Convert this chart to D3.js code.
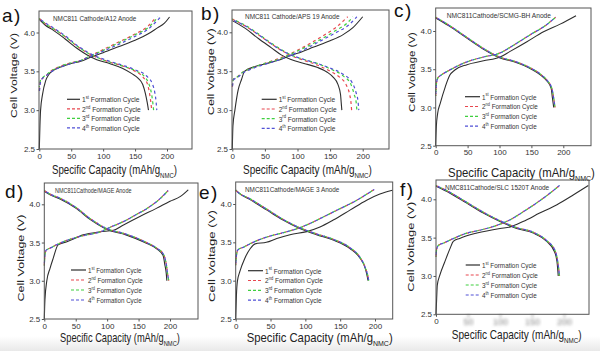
<!DOCTYPE html>
<html>
<head>
<meta charset="utf-8">
<script src="https://cdn.jsdelivr.net/npm/d3@7"></script>
<style>
  body { margin: 0; background: #fff; }
  svg { display: block; font-family: "Liberation Sans", Arial, sans-serif; }
</style>
</head>
<body>
<svg id="area" width="600" height="351"></svg>
<script>
// ---- values ----
const panelTags = ['a)', 'b)', 'c)', 'd)', 'e)', 'f)'];
const panelTitles = [
  'NMC811 Cathode/A12 Anode',
  'NMC811 Cathode/APS 19 Anode',
  'NMC811Cathode/SCMG-BH Anode',
  'NMC811Cathode/MAGE Anode',
  'NMC811Cathode/MAGE 3 Anode',
  'NMC811Cathode/SLC 1520T Anode',
];
const cycleNumbers = ['1', '2', '3', '4'];
const cycleSuffixes = ['st', 'nd', 'rd', 'th'];
const capTicks = [0, 50, 100, 150, 200];
const voltTicks = [2.5, 3.0, 3.5, 4.0];

// [capacity mAh/g, voltage V]
const aCharge1 = [[0, 2.5], [1, 2.8], [2, 3.0], [5, 3.2], [10, 3.38], [15, 3.46], [20, 3.5], [35, 3.56], [50, 3.6], [65, 3.63], [80, 3.68], [100, 3.74], [125, 3.82], [150, 3.9], [170, 3.98], [185, 4.06], [196, 4.12], [204, 4.2]];
const aCharge2 = [[0, 3.25], [2, 3.38], [5, 3.41], [10, 3.44], [18, 3.5], [35, 3.57], [50, 3.61], [65, 3.64], [80, 3.7], [100, 3.78], [125, 3.88], [150, 3.98], [170, 4.08], [183, 4.2]];
const aCharge3 = [[0, 3.3], [2, 3.39], [5, 3.42], [10, 3.45], [18, 3.5], [35, 3.57], [50, 3.61], [65, 3.64], [80, 3.7], [100, 3.77], [125, 3.87], [150, 3.97], [170, 4.06], [186, 4.2]];
const aCharge4 = [[0, 3.22], [2, 3.37], [5, 3.41], [10, 3.44], [18, 3.49], [35, 3.56], [50, 3.6], [65, 3.64], [80, 3.69], [100, 3.76], [125, 3.85], [150, 3.95], [170, 4.04], [190, 4.2]];
const aDischarge1 = [[0, 4.17], [10, 4.09], [20, 4.04], [40, 3.92], [60, 3.79], [75, 3.71], [90, 3.65], [110, 3.6], [130, 3.54], [145, 3.47], [155, 3.41], [162, 3.33], [166, 3.22], [169, 3.1], [171, 3.0]];
const aDischarge2 = [[0, 4.18], [10, 4.11], [20, 4.06], [40, 3.95], [60, 3.82], [75, 3.74], [90, 3.68], [110, 3.62], [130, 3.57], [150, 3.5], [163, 3.42], [170, 3.32], [173, 3.2], [175, 3.08], [176, 3.0]];
const aDischarge3 = [[0, 4.18], [10, 4.11], [20, 4.06], [40, 3.95], [60, 3.82], [75, 3.74], [90, 3.68], [110, 3.62], [130, 3.57], [150, 3.51], [165, 3.43], [172, 3.33], [176, 3.2], [178, 3.08], [179, 3.0]];
const aDischarge4 = [[0, 4.18], [10, 4.12], [20, 4.07], [40, 3.96], [60, 3.83], [75, 3.75], [90, 3.69], [110, 3.63], [130, 3.58], [150, 3.52], [168, 3.44], [177, 3.34], [181, 3.22], [183, 3.1], [184, 3.0]];

const bCharge1 = [[0, 2.5], [1, 2.8], [4, 3.0], [9, 3.26], [14, 3.39], [19, 3.5], [35, 3.56], [53, 3.6], [70, 3.64], [83, 3.68], [100, 3.73], [125, 3.81], [150, 3.89], [170, 3.97], [185, 4.06], [200, 4.2]];
const bCharge2 = [[0, 3.3], [2, 3.4], [8, 3.43], [15, 3.48], [30, 3.54], [50, 3.6], [70, 3.66], [85, 3.71], [100, 3.77], [120, 3.86], [140, 3.96], [160, 4.07], [177, 4.2]];
const bCharge3 = [[0, 3.32], [2, 3.4], [8, 3.43], [15, 3.48], [30, 3.54], [50, 3.6], [70, 3.65], [85, 3.7], [100, 3.76], [120, 3.84], [140, 3.93], [160, 4.03], [175, 4.11], [185, 4.2]];
const bCharge4 = [[0, 3.28], [2, 3.39], [8, 3.42], [15, 3.47], [30, 3.53], [50, 3.59], [70, 3.64], [85, 3.69], [100, 3.74], [120, 3.82], [140, 3.91], [160, 4.0], [178, 4.09], [191, 4.2]];
const bDischarge1 = [[0, 4.15], [20, 4.05], [40, 3.92], [60, 3.8], [75, 3.71], [90, 3.65], [110, 3.6], [130, 3.55], [145, 3.49], [155, 3.42], [162, 3.33], [166, 3.2], [167, 3.1], [168, 3.0]];
const bDischarge2 = [[0, 4.17], [20, 4.08], [40, 3.97], [60, 3.85], [75, 3.77], [90, 3.7], [110, 3.64], [130, 3.58], [150, 3.5], [165, 3.42], [175, 3.32], [180, 3.2], [182, 3.1], [183, 3.0]];
const bDischarge3 = [[0, 4.17], [20, 4.09], [40, 3.98], [60, 3.86], [75, 3.78], [90, 3.71], [110, 3.65], [130, 3.6], [150, 3.53], [170, 3.44], [182, 3.33], [187, 3.2], [190, 3.1], [191, 3.0]];
const bDischarge4 = [[0, 4.16], [20, 4.08], [40, 3.97], [60, 3.85], [75, 3.77], [90, 3.71], [110, 3.65], [130, 3.6], [150, 3.54], [170, 3.46], [184, 3.35], [190, 3.22], [193, 3.1], [194, 3.0]];

const cCharge1 = [[0, 2.5], [1, 2.75], [3, 2.92], [7, 3.05], [15, 3.27], [22, 3.42], [30, 3.49], [49, 3.56], [75, 3.61], [101, 3.66], [116, 3.73], [143, 3.86], [169, 3.99], [195, 4.09], [220, 4.2]];
const cCharge234 = [[0, 3.15], [1, 3.3], [3, 3.38], [8, 3.42], [20, 3.48], [50, 3.6], [75, 3.66], [100, 3.71], [125, 3.83], [150, 3.96], [170, 4.06], [188, 4.18]];
const cDischarge1 = [[0, 4.17], [20, 4.07], [50, 3.9], [75, 3.76], [100, 3.65], [125, 3.59], [150, 3.5], [165, 3.42], [175, 3.34], [181, 3.25], [183, 3.12], [185, 3.0]];
const cDischarge234 = [[0, 4.18], [20, 4.08], [50, 3.91], [75, 3.77], [100, 3.66], [125, 3.6], [150, 3.51], [165, 3.43], [175, 3.35], [182, 3.25], [185, 3.12], [187, 3.0]];

const dCharge1 = [[0, 2.5], [1, 2.75], [4, 3.0], [9, 3.16], [14, 3.29], [22, 3.47], [36, 3.51], [62, 3.6], [89, 3.64], [110, 3.66], [126, 3.73], [152, 3.84], [179, 3.95], [200, 4.04], [216, 4.1], [229, 4.19]];
const dCharge234 = [[0, 3.2], [1, 3.33], [3, 3.4], [10, 3.43], [22, 3.48], [40, 3.54], [62, 3.59], [89, 3.64], [105, 3.7], [125, 3.77], [145, 3.86], [168, 3.97], [185, 4.08], [197, 4.18]];
const dDischarge1 = [[0, 4.17], [10, 4.12], [25, 4.07], [50, 3.95], [75, 3.79], [100, 3.67], [130, 3.6], [160, 3.5], [180, 3.41], [189, 3.33], [192, 3.2], [194, 3.1], [195, 3.0]];
const dDischarge234 = [[0, 4.18], [10, 4.13], [25, 4.08], [50, 3.96], [75, 3.8], [100, 3.68], [130, 3.61], [160, 3.51], [180, 3.42], [190, 3.34], [194, 3.22], [196, 3.1], [198, 3.0]];

const eCharge1 = [[0, 2.5], [1, 2.8], [2.4, 2.99], [6, 3.12], [13, 3.29], [21, 3.42], [28, 3.48], [44, 3.5], [59, 3.55], [78, 3.6], [102, 3.64], [121, 3.7], [140, 3.79], [164, 3.92], [188, 4.05], [207, 4.13], [225, 4.18]];
const eCharge234 = [[0, 3.2], [1, 3.32], [3, 3.4], [12, 3.44], [25, 3.5], [45, 3.57], [70, 3.63], [92, 3.69], [110, 3.76], [130, 3.85], [150, 3.94], [170, 4.03], [185, 4.11], [199, 4.19]];
const eDischarge1 = [[0, 4.18], [5, 4.14], [20, 4.06], [45, 3.92], [68, 3.79], [92, 3.68], [116, 3.6], [140, 3.53], [164, 3.42], [178, 3.3], [186, 3.16], [189, 3.05], [190, 3.0]];
const eDischarge234 = [[0, 4.18], [5, 4.14], [20, 4.07], [45, 3.93], [68, 3.8], [92, 3.69], [116, 3.61], [140, 3.54], [164, 3.43], [178, 3.31], [186, 3.17], [190, 3.05], [191, 3.0]];

const fCharge1 = [[0, 2.5], [1, 2.7], [2, 2.88], [6, 3.01], [14, 3.19], [22, 3.36], [27, 3.45], [37, 3.49], [64, 3.56], [100, 3.62], [116, 3.64], [136, 3.71], [162, 3.82], [189, 3.93], [215, 4.06], [238, 4.18]];
const fCharge234 = [[0, 3.25], [1, 3.35], [4, 3.4], [12, 3.43], [25, 3.48], [45, 3.55], [70, 3.6], [95, 3.66], [115, 3.73], [135, 3.83], [155, 3.94], [175, 4.06], [193, 4.18]];
const fDischarge1 = [[0, 4.17], [22, 4.08], [48, 3.95], [74, 3.82], [100, 3.71], [126, 3.62], [152, 3.56], [173, 3.45], [185, 3.32], [189, 3.19], [191, 3.0]];
const fDischarge234 = [[0, 4.18], [22, 4.09], [48, 3.96], [74, 3.83], [100, 3.72], [126, 3.63], [152, 3.57], [173, 3.46], [186, 3.33], [190, 3.2], [193, 3.0]];

// per panel: one [charge, discharge] pair per cycle
const panelCurves = [
  [[aCharge1, aDischarge1], [aCharge2, aDischarge2], [aCharge3, aDischarge3], [aCharge4, aDischarge4]],
  [[bCharge1, bDischarge1], [bCharge2, bDischarge2], [bCharge3, bDischarge3], [bCharge4, bDischarge4]],
  [[cCharge1, cDischarge1], [cCharge234, cDischarge234], [cCharge234, cDischarge234], [cCharge234, cDischarge234]],
  [[dCharge1, dDischarge1], [dCharge234, dDischarge234], [dCharge234, dDischarge234], [dCharge234, dDischarge234]],
  [[eCharge1, eDischarge1], [eCharge234, eDischarge234], [eCharge234, eDischarge234], [eCharge234, eDischarge234]],
  [[fCharge1, fDischarge1], [fCharge234, fDischarge234], [fCharge234, fDischarge234], [fCharge234, fDischarge234]],
];

// ---- layout (pixels) ----
// x0/x200: pixel of 0 and 200 mAh/g, y25/y40: pixel of 2.5 V and 4.0 V
const layout = [
  { x0: 39.3, x200: 167, y25: 149, y40: 32.5, box: [39, 192, 11, 149], tag: [2, 22], title: [53, 21, 84], leg: [67, 80, 99.3, 9.5, 58], xTitle: [114.5, 174, 125], yTitle: [13, 75.5, 85] },
  { x0: 232.3, x200: 362.7, y25: 149, y40: 32.3, box: [232, 389, 10, 149], tag: [201, 20], title: [245, 18.5, 95], leg: [261.7, 276.7, 99.3, 9.7, 57], xTitle: [307.5, 174, 129], yTitle: [210, 71.7, 87] },
  { x0: 435.7, x200: 563.3, y25: 145.7, y40: 31, box: [435.7, 591, 8, 145.7], tag: [394, 17], title: [446.7, 18, 105], leg: [465, 480, 96.7, 9.8, 55], xTitle: [521.5, 177, 147], yTitle: [411, 72, 80] },
  { x0: 44.3, x200: 170, y25: 319, y40: 204.3, box: [44.3, 198, 183, 319], tag: [5, 198], title: [55, 193, 77], leg: [71, 86, 270, 10, 54], xTitle: [120, 342, 120], yTitle: [20.5, 258, 87] },
  { x0: 235.7, x200: 375, y25: 319, y40: 204, box: [235.7, 392.7, 182, 319], tag: [199, 199], title: [245, 192, 95], leg: [248, 263, 270.7, 9.8, 57], xTitle: [319.7, 342, 146], yTitle: [211.7, 256, 92] },
  { x0: 436, x200: 564, y25: 314.3, y40: 199.3, box: [436, 589, 180, 314.3], tag: [400, 196], title: [445, 190, 105], leg: [465.7, 480, 265, 10, 55], xTitle: [516.7, 339, 130], yTitle: [410, 246.7, 90] },
];

const cycleColors = ['#2e2e2e', '#e8474f', '#3fcf3f', '#5050d6'];
const dashOffsets = [0, 0, 2, 4];

const svg = d3.select('#area');

const defs = svg.append('defs');
defs.append('filter')
  .attr('id', 'smudge')
  .append('feGaussianBlur')
  .attr('stdDeviation', 1.4);
const grad = defs.append('linearGradient')
  .attr('id', 'foot')
  .attr('x1', 0).attr('y1', 0).attr('x2', 0).attr('y2', 1);
grad.append('stop').attr('offset', 0).attr('stop-color', '#fff');
grad.append('stop').attr('offset', 1).attr('stop-color', '#e9e9e9');

svg.append('rect')
  .attr('x', 0).attr('y', 336)
  .attr('width', 600).attr('height', 15)
  .attr('fill', 'url(#foot)');

// text with optional super/subscript parts, squeezed horizontally to a width
function addText(parent, x, y, parts, opts) {
  const g = parent.append('g');
  const t = g.append('text')
    .attr('font-size', opts.size)
    .attr('text-anchor', opts.anchor || 'start')
    .attr('fill', opts.fill || '#222');
  let shift = 0;
  parts.forEach((p) => {
    const part = typeof p === 'string' ? { text: p } : p;
    let target = 0;
    if (part.sup) target = -0.38 * opts.size;
    if (part.sub) target = 0.3 * opts.size;
    t.append('tspan')
      .attr('dy', target - shift)
      .attr('font-size', part.sup || part.sub ? opts.size * 0.62 : null)
      .text(part.text);
    shift = target;
  });
  const w = t.node().getBBox().width;
  const sx = opts.width ? opts.width / w : (opts.scale || 1);
  if (opts.rotate) {
    g.attr('transform', `translate(${x},${y}) rotate(-90) scale(${sx},${opts.thick || 1})`);
  } else {
    g.attr('transform', `translate(${x},${y}) scale(${sx},1)`);
  }
  return sx;
}

layout.forEach((L, i) => {
  const panel = svg.append('g').attr('class', `panel panel-${i}`);

  const x = d3.scaleLinear().domain([0, 200]).range([L.x0, L.x200]);
  const y = d3.scaleLinear().domain([2.5, 4.0]).range([L.y25, L.y40]);

  const [bl, br, bt, bb] = L.box;

  // curves: cycle 1 first, dashed cycles on top
  const line = d3.line()
    .x((d) => x(d[0]))
    .y((d) => y(d[1]))
    .curve(d3.curveMonotoneX);

  panelCurves[i].forEach((pair, c) => {
    pair.forEach((curve) => {
      panel.append('path')
        .attr('d', line(curve))
        .attr('fill', 'none')
        .attr('stroke', cycleColors[c])
        .attr('stroke-width', c === 0 ? 1.1 : 1.2)
        .attr('stroke-dasharray', c === 0 ? null : '3,3')
        .attr('stroke-dashoffset', dashOffsets[c]);
    });
  });

  // frame
  panel.append('rect')
    .attr('x', bl).attr('y', bt)
    .attr('width', br - bl).attr('height', bb - bt)
    .attr('fill', 'none')
    .attr('stroke', '#555')
    .attr('stroke-width', 1);

  const xAxis = d3.axisBottom(x)
    .tickValues(capTicks)
    .tickSize(2.5)
    .tickPadding(1.5)
    .tickFormat(d3.format('d'));
  const yAxis = d3.axisLeft(y)
    .tickValues(voltTicks)
    .tickSize(2.5)
    .tickPadding(1.5)
    .tickFormat(d3.format('.1f'));

  const gx = panel.append('g')
    .attr('transform', `translate(0, ${bb})`)
    .call(xAxis);
  const gy = panel.append('g')
    .attr('transform', `translate(${bl}, 0)`)
    .call(yAxis);

  [gx, gy].forEach((g) => {
    g.attr('font-family', null).attr('font-size', null);
    g.select('.domain').remove();
    g.selectAll('line').attr('stroke', '#555');
    g.selectAll('text')
      .attr('font-size', 8)
      .attr('fill', '#333');
  });

  if (i === 5) {
    gx.selectAll('.tick')
      .filter((d) => d > 0)
      .attr('filter', 'url(#smudge)')
      .selectAll('text')
      .attr('font-size', 9)
      .attr('fill', '#888');
  }

  // panel tag and title
  panel.append('text')
    .attr('x', L.tag[0]).attr('y', L.tag[1])
    .attr('font-size', 19)
    .attr('letter-spacing', 1.5)
    .attr('fill', '#111')
    .text(panelTags[i]);

  addText(panel, L.title[0], L.title[1], [panelTitles[i]], { size: 8, width: L.title[2], fill: '#333' });

  // legend
  const [lx1, lx2, ly0, lstep, lw] = L.leg;
  let legScale = null;
  cycleNumbers.forEach((n, c) => {
    const yy = ly0 + c * lstep;
    panel.append('line')
      .attr('x1', lx1).attr('x2', lx2)
      .attr('y1', yy).attr('y2', yy)
      .attr('stroke', cycleColors[c])
      .attr('stroke-width', 1.2)
      .attr('stroke-dasharray', c === 0 ? null : '3,2');
    const parts = [n, { text: cycleSuffixes[c], sup: true }, ' Formation Cycle'];
    const opts = { size: 8, fill: '#333' };
    if (legScale === null) opts.width = lw; else opts.scale = legScale;
    const s = addText(panel, lx2 + 2, yy + 2.8, parts, opts);
    if (legScale === null) legScale = s;
  });

  // axis titles
  addText(panel, L.xTitle[0], L.xTitle[1],
    ['Specific Capacity (mAh/g', { text: 'NMC', sub: true }, ')'],
    { size: 13, width: L.xTitle[2], anchor: 'middle', fill: '#222' });

  addText(panel, L.yTitle[0] + 3.6, L.yTitle[1], ['Cell Voltage (V)'],
    { size: 12, width: L.yTitle[2], anchor: 'middle', rotate: true, thick: 0.82, fill: '#222' });
});
</script>
</body>
</html>
